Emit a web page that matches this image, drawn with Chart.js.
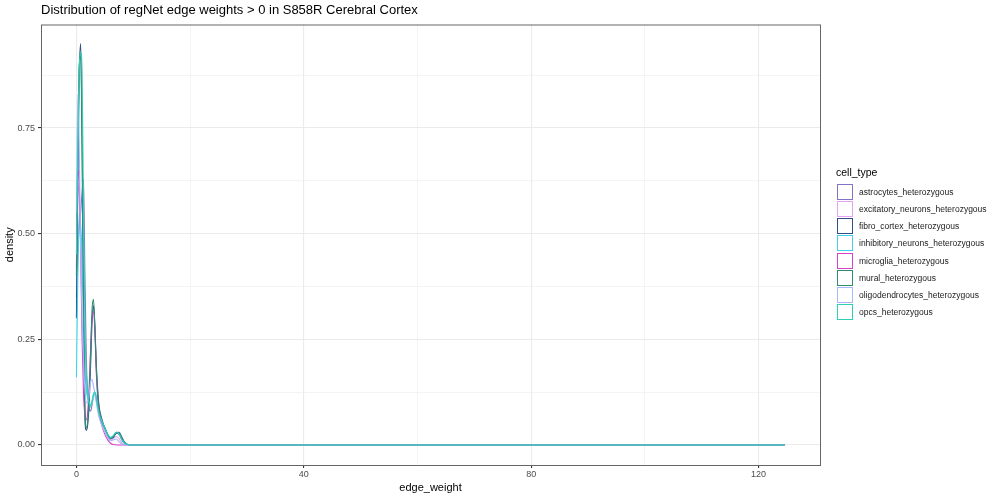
<!DOCTYPE html>
<html lang="en">
<head>
  <meta charset="UTF-8">
  <title>regNet edge weights</title>
  <script src="https://cdn.jsdelivr.net/npm/chart.js"></script>
  <style>
    body {
      margin: 0;
      background: #fff;
      font-family: 'Liberation Sans', Arial, sans-serif;
    }
    #wrap {
      position: relative;
      width: 1000px;
      height: 500px;
    }
    #plotTitle {
      position: absolute;
      left: 41px;
      top: 2px;
      font-size: 13px;
      color: #000;
      white-space: nowrap;
    }
    #legend {
      position: absolute;
      left: 836px;
      top: 166px;
      color: #000;
    }
    #legend .ltitle {
      font-size: 10.5px;
      margin-bottom: 5px;
      margin-left: 0px;
    }
    .litem {
      display: flex;
      align-items: center;
      height: 17.25px;
      font-size: 8.5px;
      color: #1a1a1a;
    }
    .lkey {
      width: 14px;
      height: 14px;
      border: 1.2px solid;
      background: #fff;
      margin-left: 1px;
      margin-right: 6px;
    }
  </style>
</head>
<body>
  <div id="wrap">
    <canvas id="densityChart" width="1000" height="500"></canvas>
    <div id="plotTitle">Distribution of regNet edge weights &gt; 0 in S858R Cerebral Cortex</div>
    <div id="legend"><div class="ltitle">cell_type</div></div>
  </div>

  <script>
    // edge_weight grid the curves were read at
    const edgeWeight = [0, 0.25, 0.5, 0.75, 1, 1.25, 1.5, 1.75, 2, 2.25, 2.5, 2.75, 3, 3.25, 3.5, 3.75,
                        4, 4.5, 5, 5.5, 6, 6.5, 7, 7.5, 8, 8.5, 9, 9.5, 10, 11, 124.6];

    const cellTypes = [
      "astrocytes_heterozygous",
      "excitatory_neurons_heterozygous",
      "fibro_cortex_heterozygous",
      "inhibitory_neurons_heterozygous",
      "microglia_heterozygous",
      "mural_heterozygous",
      "oligodendrocytes_heterozygous",
      "opcs_heterozygous"
    ];

    // density values
    const astrocytes = [0.35, 0.45, 0.52, 0.55, 0.60, 0.63, 0.40, 0.20, 0.12, 0.085, 0.08, 0.095, 0.115, 0.12, 0.11, 0.09,
                        0.07, 0.05, 0.035, 0.022, 0.015, 0.02, 0.028, 0.025, 0.012, 0.004, 0.001, 0, 0, 0, 0];
    const excitatory = [0.50, 0.62, 0.58, 0.50, 0.42, 0.30, 0.20, 0.14, 0.11, 0.095, 0.09, 0.10, 0.115, 0.12, 0.11, 0.09,
                        0.07, 0.05, 0.035, 0.02, 0.012, 0.015, 0.02, 0.015, 0.005, 0.001, 0, 0, 0, 0, 0];
    const fibro      = [0.30, 0.62, 0.88, 0.95, 0.72, 0.32, 0.06, 0.035, 0.05, 0.10, 0.19, 0.29, 0.33, 0.28, 0.19, 0.13,
                        0.09, 0.06, 0.04, 0.025, 0.015, 0.018, 0.028, 0.030, 0.018, 0.006, 0.001, 0, 0, 0, 0];
    const inhibitory = [0.16, 0.40, 0.55, 0.52, 0.45, 0.30, 0.18, 0.13, 0.11, 0.10, 0.095, 0.105, 0.12, 0.125, 0.115, 0.095,
                        0.075, 0.055, 0.04, 0.025, 0.017, 0.022, 0.03, 0.028, 0.014, 0.005, 0.001, 0, 0, 0, 0];
    const microglia  = [0.42, 0.65, 0.62, 0.45, 0.25, 0.12, 0.07, 0.06, 0.08, 0.14, 0.23, 0.30, 0.315, 0.27, 0.17, 0.11,
                        0.075, 0.045, 0.025, 0.012, 0.004, 0.001, 0, 0, 0, 0, 0, 0, 0, 0, 0];
    const mural      = [0.40, 0.70, 0.90, 0.92, 0.70, 0.35, 0.09, 0.04, 0.06, 0.12, 0.22, 0.32, 0.345, 0.28, 0.18, 0.12,
                        0.085, 0.055, 0.04, 0.025, 0.015, 0.02, 0.03, 0.028, 0.015, 0.005, 0.001, 0, 0, 0, 0];
    const oligo      = [0.55, 0.83, 0.70, 0.45, 0.30, 0.20, 0.13, 0.10, 0.10, 0.12, 0.15, 0.155, 0.14, 0.12, 0.10, 0.08,
                        0.065, 0.045, 0.03, 0.018, 0.01, 0.012, 0.014, 0.008, 0.002, 0, 0, 0, 0, 0, 0];
    const opcs       = [0.45, 0.72, 0.89, 0.93, 0.88, 0.55, 0.28, 0.17, 0.12, 0.10, 0.09, 0.10, 0.12, 0.125, 0.11, 0.09,
                        0.075, 0.055, 0.04, 0.025, 0.018, 0.022, 0.03, 0.026, 0.012, 0.004, 0.001, 0, 0, 0, 0];

    const seriesValues = [astrocytes, excitatory, fibro, inhibitory, microglia, mural, oligo, opcs];
    const lineColors = ["#7f73cc", "#e6a3f2", "#2f4f85", "#3fd2ea", "#d444c8", "#2f8b72", "#a9b7ff", "#2fd1b4"];

    const xTicks = [0, 40, 80, 120];
    const yTicks = [0, 0.25, 0.5, 0.75];

    // legend
    const legend = document.getElementById("legend");
    cellTypes.forEach((name, i) => {
      const row = document.createElement("div");
      row.className = "litem";
      const key = document.createElement("span");
      key.className = "lkey";
      key.style.borderColor = lineColors[i];
      const label = document.createElement("span");
      label.textContent = name;
      row.appendChild(key);
      row.appendChild(label);
      legend.appendChild(row);
    });

    const isMajor = (v, list) => list.some(t => Math.abs(t - v) < 1e-6);

    const panelBorder = {
      id: "panelBorder",
      afterDraw(chart) {
        const a = chart.chartArea;
        const c = chart.ctx;
        c.save();
        c.strokeStyle = "#666";
        c.lineWidth = 1;
        c.strokeRect(a.left + 0.5, a.top + 0.5, a.right - a.left, a.bottom - a.top);
        c.restore();
      }
    };

    const datasets = cellTypes.map((name, i) => ({
      label: name,
      data: edgeWeight.map((x, j) => ({ x: x, y: seriesValues[i][j] })),
      borderColor: lineColors[i],
      borderWidth: 1.1,
      pointRadius: 0,
      fill: false,
      cubicInterpolationMode: "monotone",
      order: cellTypes.length - 1 - i
    }));

    new Chart(document.getElementById("densityChart"), {
      type: "line",
      data: { datasets: datasets },
      options: {
        responsive: false,
        animation: false,
        layout: { padding: { top: 24.5, right: 180, left: 0, bottom: 0 } },
        plugins: {
          legend: { display: false },
          tooltip: { enabled: false }
        },
        scales: {
          x: {
            type: "linear",
            min: -6.23,
            max: 130.8,
            afterFit(scale) { scale.height = 35; },
            ticks: {
              stepSize: 20,
              includeBounds: false,
              autoSkip: false,
              maxRotation: 0,
              padding: 1,
              color: "#4d4d4d",
              font: { family: "'Liberation Sans', Arial, sans-serif", size: 9 },
              callback: v => isMajor(v, xTicks) ? String(v) : ""
            },
            grid: {
              color: ctx => "#ebebeb",
              lineWidth: ctx => isMajor(ctx.tick.value, xTicks) ? 1.1 : 0.55,
              tickColor: ctx => isMajor(ctx.tick.value, xTicks) ? "#333" : "rgba(0,0,0,0)",
              tickLength: 3
            },
            border: { display: false },
            title: {
              display: true,
              text: "edge_weight",
              color: "#000",
              padding: { top: 0, bottom: 5 },
              font: { family: "'Liberation Sans', Arial, sans-serif", size: 11 }
            }
          },
          y: {
            min: -0.0474,
            max: 0.995,
            afterFit(scale) { scale.width = 41; },
            ticks: {
              stepSize: 0.125,
              includeBounds: false,
              autoSkip: false,
              padding: 3,
              color: "#4d4d4d",
              font: { family: "'Liberation Sans', Arial, sans-serif", size: 9 },
              callback: v => isMajor(v, yTicks) ? v.toFixed(2) : ""
            },
            grid: {
              color: "#ebebeb",
              lineWidth: ctx => isMajor(ctx.tick.value, yTicks) ? 1.1 : 0.55,
              tickColor: ctx => isMajor(ctx.tick.value, yTicks) ? "#333" : "rgba(0,0,0,0)",
              tickLength: 3
            },
            border: { display: false },
            title: {
              display: true,
              text: "density",
              color: "#000",
              padding: { top: 3.5, bottom: 0 },
              font: { family: "'Liberation Sans', Arial, sans-serif", size: 11 }
            }
          }
        }
      },
      plugins: [panelBorder]
    });
  </script>
</body>
</html>
